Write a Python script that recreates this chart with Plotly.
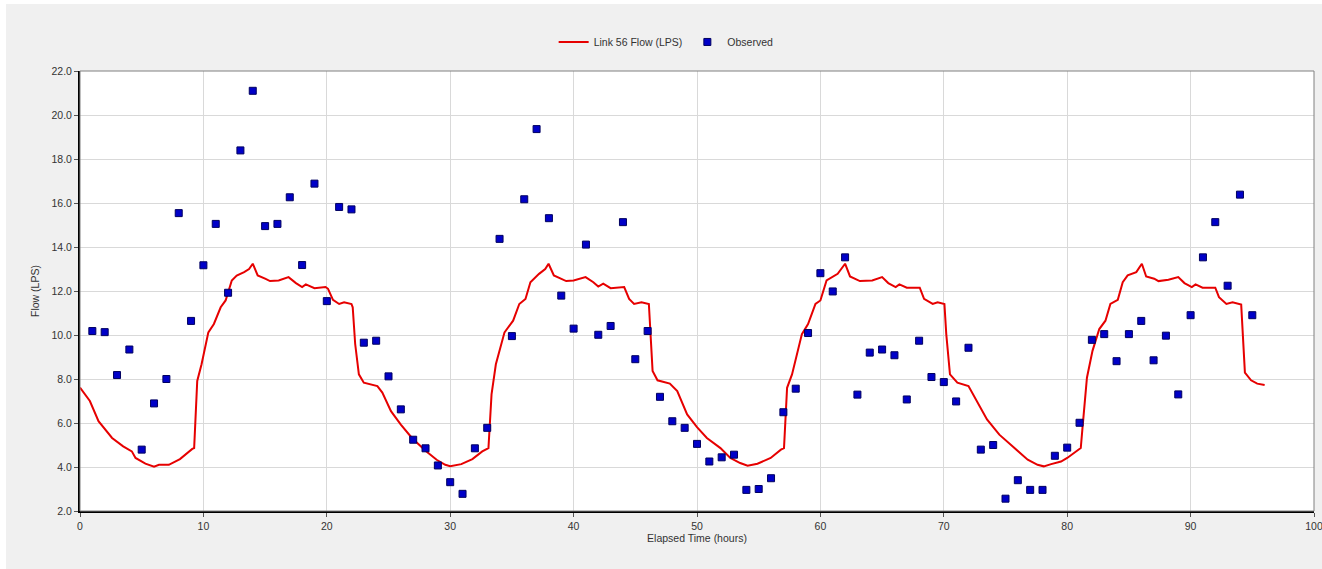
import plotly.graph_objects as go

# Simulated flow (Link 56), hours vs LPS
sim_hours = [0, 0.8, 1.5, 2.6, 3.5, 4.2, 4.5, 5.3, 6.0, 6.4, 7.2, 8.1, 9.1, 9.25, 9.5, 9.85,
             10.4, 10.85, 11.4, 11.8, 12.3, 12.7, 13.3, 13.7, 14.0, 14.4, 15.0, 15.4, 16.1, 16.9,
             17.5, 18.0, 18.3, 19.0, 19.9, 20.1, 20.5, 21.0, 21.4, 22.0, 22.1, 22.3, 22.6, 23.0,
             24.1, 24.5, 25.2, 26.0, 26.9, 28.0, 28.9, 29.6, 30.0, 30.9, 31.8, 32.6, 33.1, 33.35,
             33.7, 34.4, 35.1, 35.6, 36.1, 36.5, 37.2, 37.7, 37.97, 38.4, 39.4, 40.0, 40.97, 41.6,
             42.0, 42.4, 43.0, 44.1, 44.5, 44.9, 45.5, 46.1, 46.4, 46.8, 47.8, 48.4, 49.2, 50.0,
             50.8, 51.9, 52.7, 53.5, 54.1, 54.9, 55.97, 56.8, 57.05, 57.3, 57.7, 58.5, 59.0, 59.6,
             60.0, 60.5, 61.4, 62.0, 62.4, 63.2, 64.2, 65.0, 65.5, 66.1, 66.4, 67.0, 68.05, 68.4,
             69.1, 69.5, 70.05, 70.2, 70.5, 71.1, 72.0, 72.7, 73.5, 74.5, 75.7, 76.8, 77.6, 78.1,
             78.7, 79.5, 80.0, 80.7, 81.1, 81.24, 81.6, 82.05, 82.6, 83.1, 83.5, 84.1, 84.5, 84.9,
             85.6, 86.05, 86.4, 87.05, 87.4, 88.2, 89.0, 89.5, 90.1, 90.4, 90.97, 92.0, 92.3, 92.9,
             93.4, 94.1, 94.2, 94.4, 94.9, 95.4, 96.0]
sim_flow = [7.61, 7.0, 6.08, 5.32, 4.94, 4.71, 4.41, 4.15, 4.01, 4.1, 4.1, 4.36, 4.82, 4.86, 7.91, 8.67,
            10.12, 10.5, 11.26, 11.57, 12.48, 12.7, 12.86, 13.0, 13.24, 12.71, 12.56, 12.45, 12.48, 12.63,
            12.36, 12.18, 12.3, 12.13, 12.18, 12.1, 11.6, 11.41, 11.49, 11.41, 11.26, 9.59, 8.21, 7.83,
            7.68, 7.38, 6.54, 5.93, 5.32, 4.74, 4.33, 4.1, 4.04, 4.13, 4.36, 4.71, 4.86, 7.3,
            8.67, 10.12, 10.65, 11.41, 11.64, 12.4, 12.78, 13.0, 13.24, 12.71, 12.45, 12.48, 12.63, 12.4,
            12.2, 12.33, 12.13, 12.18, 11.64, 11.41, 11.49, 11.41, 8.37, 7.94, 7.79, 7.45, 6.39, 5.81,
            5.32, 4.86, 4.41, 4.18, 4.06, 4.15, 4.41, 4.79, 4.86, 7.6, 8.21, 10.04, 10.5, 11.41,
            11.57, 12.48, 12.78, 13.24, 12.66, 12.45, 12.48, 12.63, 12.36, 12.18, 12.3, 12.15, 12.15, 11.64,
            11.41, 11.49, 11.41, 10.04, 8.21, 7.83, 7.68, 7.0, 6.16, 5.47, 4.86, 4.33, 4.1, 4.03,
            4.13, 4.25, 4.41, 4.71, 4.86, 5.78, 8.06, 9.28, 10.27, 10.65, 11.41, 11.6, 12.4, 12.71,
            12.86, 13.24, 12.66, 12.56, 12.45, 12.51, 12.63, 12.36, 12.18, 12.3, 12.15, 12.15, 11.72, 11.41,
            11.49, 11.38, 10.34, 8.29, 7.94, 7.79, 7.73]

# Observed flow, hourly
obs_hours = list(range(1, 96))
obs_flow = [10.18, 10.13, 8.18, 9.34, 4.79, 6.89, 8.0, 15.54, 10.64, 13.17,
            15.05, 11.92, 18.39, 21.1, 14.95, 15.05, 16.26, 13.18, 16.88, 11.54,
            15.82, 15.71, 9.65, 9.74, 8.12, 6.62, 5.24, 4.85, 4.07, 3.31,
            2.78, 4.85, 5.78, 14.37, 9.95, 16.17, 19.36, 15.31, 11.79, 10.29,
            14.11, 10.01, 10.41, 15.13, 8.9, 10.18, 7.19, 6.08, 5.78, 5.05,
            4.25, 4.44, 4.56, 2.96, 3.0, 3.49, 6.49, 7.56, 10.09, 12.81,
            11.98, 13.53, 7.29, 9.2, 9.34, 9.08, 7.07, 9.74, 8.09, 7.86,
            6.98, 9.42, 4.79, 5.0, 2.56, 3.4, 2.96, 2.96, 4.51, 4.88,
            6.01, 9.78, 10.04, 8.81, 10.04, 10.64, 8.85, 9.97, 7.3, 10.9,
            13.53, 15.13, 12.24, 16.38, 10.9]

x_ticks = [0, 10, 20, 30, 40, 50, 60, 70, 80, 90, 100]
y_ticks = [2, 4, 6, 8, 10, 12, 14, 16, 18, 20, 22]

FONT = "Liberation Sans"
TXT = "#333333"

fig = go.Figure()
fig.add_trace(go.Scatter(x=sim_hours, y=sim_flow, mode="lines", name="Link 56 Flow (LPS)",
                         line=dict(color="#e60000", width=2)))
fig.add_trace(go.Scatter(x=obs_hours, y=obs_flow, mode="markers", name="Observed",
                         marker=dict(symbol="square", size=7, color="#0000c8",
                                     line=dict(color="#000060", width=1))))

fig.update_layout(
    width=1322, height=569,
    margin=dict(l=80, r=8, t=71, b=58, autoexpand=False),
    paper_bgcolor="#f0f0f0",
    plot_bgcolor="white",
    font=dict(family=FONT, size=10.5, color=TXT),
    showlegend=True,
    legend=dict(orientation="h", x=0.475, xanchor="center", y=1.066, yanchor="middle",
                bgcolor="rgba(0,0,0,0)", font=dict(family=FONT, size=10.5, color=TXT),
                itemwidth=30, tracegroupgap=0),
    xaxis=dict(range=[0, 100], tickvals=x_ticks, ticktext=[str(v) for v in x_ticks],
               showgrid=True, gridcolor="#d9d9d9", gridwidth=1, zeroline=False,
               showline=True, linecolor="black", linewidth=2, ticks="outside", ticklen=4,
               tickcolor="#555555", ticklabeloverflow="allow", automargin=False,
               title=dict(text="Elapsed Time (hours)", standoff=4, font=dict(family=FONT, size=10.5, color=TXT))),
    yaxis=dict(range=[2, 22], tickvals=y_ticks, tickformat=".1f",
               showgrid=True, gridcolor="#d9d9d9", gridwidth=1, zeroline=False,
               showline=True, linecolor="black", linewidth=2, ticks="outside", ticklen=4,
               tickcolor="#555555", ticklabeloverflow="allow", automargin=False,
               title=dict(text="Flow (LPS)", standoff=10, font=dict(family=FONT, size=10.5, color=TXT))),
    shapes=[
        # thin gray frame (top/right)
        dict(type="rect", xref="paper", yref="paper", x0=0, y0=0, x1=1, y1=1,
             line=dict(color="#808080", width=1), fillcolor="rgba(0,0,0,0)", layer="above"),
        # white strips at window edges
        dict(type="rect", xref="paper", yref="paper", x0=-0.07, x1=-0.0600, y0=-0.2, y1=1.2,
             line=dict(width=0), fillcolor="white", layer="below"),
        dict(type="rect", xref="paper", yref="paper", x0=-0.07, x1=1.02, y0=1.152, y1=1.2,
             line=dict(width=0), fillcolor="white", layer="below"),
    ],
)

fig.write_html("out.html", config={"displayModeBar": False},
               post_script="document.body.style.margin='0';document.body.style.overflow='hidden';")
